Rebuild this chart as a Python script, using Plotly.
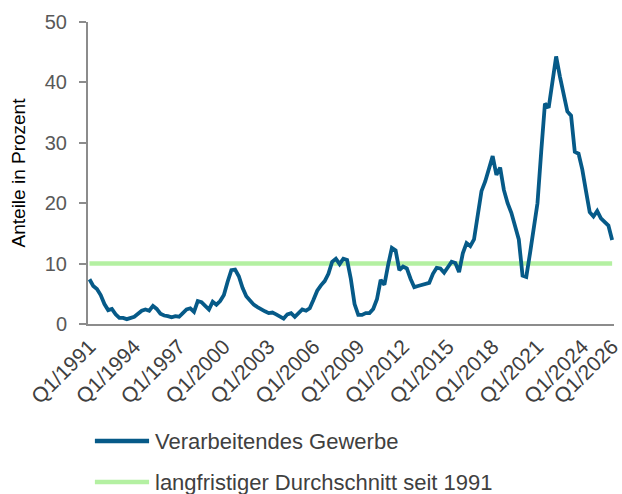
import plotly.graph_objects as go

# Quarterly index Q1/1991 .. Q1/2026
years = list(range(1991, 2027))
quarters = [f"Q{q}/{y}" for y in years for q in (1, 2, 3, 4)][:141]

verarbeitendes = [
    7.4, 6.3, 5.8, 4.8, 3.3, 2.3, 2.5, 1.6, 1.0, 1.0, 0.8, 1.0, 1.2, 1.7, 2.2, 2.4,
    2.2, 3.0, 2.5, 1.7, 1.4, 1.3, 1.1, 1.3, 1.2, 1.8, 2.4, 2.6, 2.0, 3.8, 3.6, 3.0,
    2.4, 3.7, 3.2, 3.8, 4.8, 7.0, 8.9, 9.0, 7.9, 6.0, 4.6, 3.9, 3.2, 2.8, 2.4, 2.1,
    1.8, 1.9, 1.6, 1.3, 0.9, 1.6, 1.8, 1.2, 1.8, 2.4, 2.2, 2.6, 4.0, 5.5, 6.4, 7.1,
    8.3, 10.3, 10.8, 9.9, 10.8, 10.6, 7.5, 3.3, 1.5, 1.5, 1.8, 1.8, 2.5, 4.1, 7.3, 6.5,
    9.8, 12.6, 12.2, 8.9, 9.5, 9.2, 7.5, 6.1, 6.3, 6.5, 6.7, 6.8, 8.3, 9.3, 9.2, 8.5,
    9.4, 10.3, 10.1, 8.6, 11.7, 13.4, 12.9, 14.0, 18.0, 22.0, 23.6, 25.5, 27.8, 24.7,
    25.9, 22.2, 20.0, 18.4, 16.3, 14.0, 8.0, 7.8, 11.7, 16.0, 20.0, 28.5, 36.5, 35.8,
    40.0, 44.3, 41.0, 38.0, 35.2, 34.5, 28.5, 28.2, 25.6, 22.0, 18.5, 17.8, 18.7, 17.5,
    16.8, 16.3, 13.9,
]
durchschnitt_wert = 10.0

tick_labels = ["Q1/1991", "Q1/1994", "Q1/1997", "Q1/2000", "Q1/2003", "Q1/2006",
               "Q1/2009", "Q1/2012", "Q1/2015", "Q1/2018", "Q1/2021", "Q1/2024", "Q1/2026"]

series_names = ["Verarbeitendes Gewerbe", "langfristiger Durchschnitt seit 1991"]
series_colors = ["#065a88", "#b4f0a2"]

x_idx = list(range(len(verarbeitendes)))
tick_vals = [quarters.index(t) for t in tick_labels]

FONT = "Liberation Sans, Arial, sans-serif"
W, H = 622, 494
ML, MT, MB = 88, 22, 170
PW, PH = W - ML, H - MT - MB


def px_x(p):
    return (p - ML) / PW


def px_y(p):
    return (H - MB - p) / PH


fig = go.Figure()
fig.add_trace(go.Scatter(
    x=x_idx, y=[durchschnitt_wert] * len(x_idx), mode="lines",
    name=series_names[1], showlegend=False,
    line=dict(color=series_colors[1], width=4.5),
))
fig.add_trace(go.Scatter(
    x=x_idx, y=verarbeitendes, mode="lines", name=series_names[0], showlegend=False,
    line=dict(color=series_colors[0], width=3.8),
))

# legend drawn below the chart (sample line + label)
shapes, annotations = [], []
for k, (nm, col) in enumerate(zip(series_names, series_colors)):
    yy = px_y(441 + 41 * k)
    shapes.append(dict(type="line", xref="paper", yref="paper",
                       x0=px_x(95), x1=px_x(150), y0=yy, y1=yy,
                       line=dict(color=col, width=4.5)))
    annotations.append(dict(xref="paper", yref="paper", x=px_x(154), y=yy,
                            xanchor="left", yanchor="middle", showarrow=False,
                            text=nm, font=dict(size=22, color="#404040", family=FONT)))

fig.update_layout(
    width=W, height=H,
    margin=dict(l=ML, r=0, t=MT, b=MB),
    paper_bgcolor="white", plot_bgcolor="white",
    font=dict(family=FONT, color="#404040"),
    showlegend=False,
    shapes=shapes, annotations=annotations,
    xaxis=dict(
        range=[-0.4, 140.5], tickmode="array", tickvals=tick_vals, ticktext=tick_labels,
        tickangle=-45, tickfont=dict(size=21, color="#404040"),
        ticklabeloverflow="allow",
        showline=True, linecolor="#8c8c8c", linewidth=2, showgrid=False,
        ticks="", zeroline=False,
    ),
    yaxis=dict(
        range=[0, 50], dtick=10, tickfont=dict(size=20, color="#595959"),
        showline=True, linecolor="#8c8c8c", linewidth=2, showgrid=False,
        ticks="outside", ticklen=7, tickcolor="#8c8c8c", tickwidth=2,
        ticklabelstandoff=8, zeroline=False,
        title=dict(text="Anteile in Prozent", font=dict(size=19, color="#000000"), standoff=14),
    ),
)

fig.write_html(
    "out.html",
    config={"displayModeBar": False},
    post_script="document.body.style.margin='0';document.body.style.overflow='hidden';",
)
